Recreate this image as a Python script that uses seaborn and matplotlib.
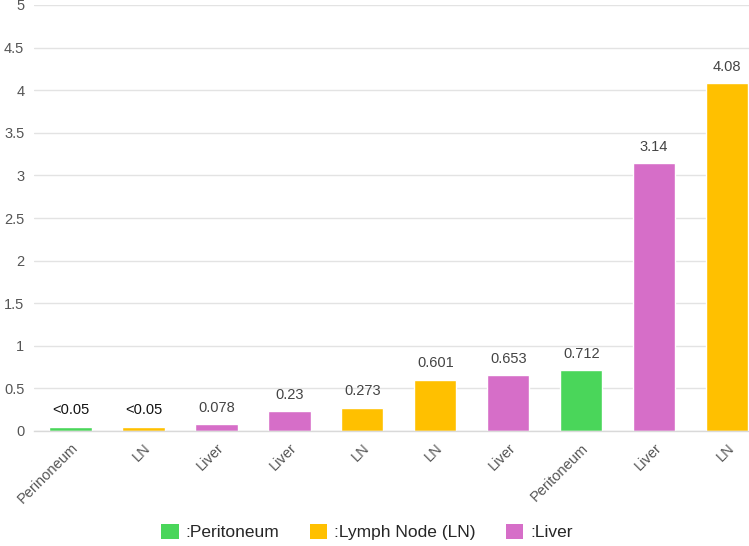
import matplotlib
matplotlib.use("Agg")
import matplotlib.pyplot as plt
import seaborn as sns
import pandas as pd
from matplotlib.patches import Patch

categories = ["Perinoneum", "LN", "Liver", "Liver", "LN", "LN", "Liver", "Peritoneum", "Liver", "LN"]
values = [0.05, 0.05, 0.078, 0.23, 0.273, 0.601, 0.653, 0.712, 3.14, 4.08]
value_labels = ["<0.05", "<0.05", "0.078", "0.23", "0.273", "0.601", "0.653", "0.712", "3.14", "4.08"]
groups = ["Peritoneum", "Lymph Node (LN)", "Liver", "Liver", "Lymph Node (LN)", "Lymph Node (LN)",
          "Liver", "Peritoneum", "Liver", "Lymph Node (LN)"]
legend_order = ["Peritoneum", "Lymph Node (LN)", "Liver"]
colors = {"Peritoneum": "#4ad65a", "Lymph Node (LN)": "#ffc000", "Liver": "#d66ec8"}
yticks = [0, 0.5, 1, 1.5, 2, 2.5, 3, 3.5, 4, 4.5, 5]

sns.set_theme(style="white")
plt.rcParams["font.family"] = ["Liberation Sans", "DejaVu Sans"]

df = pd.DataFrame({"pos": list(range(len(values))), "value": values, "group": groups})

fig = plt.figure(figsize=(7.49, 5.46), dpi=100)
ax = fig.add_axes([34 / 749, 115 / 546, 1 - 34 / 749, (431 - 5) / 546])

sns.barplot(data=df, x="pos", y="value", hue="group", palette=colors, dodge=False,
            width=0.58, legend=False, ax=ax, saturation=1, order=list(range(len(values))))

for cont in ax.containers:
    labs = []
    for bar in cont:
        x = bar.get_x() + bar.get_width() / 2
        idx = int(round(x))
        labs.append(value_labels[idx])
    texts = ax.bar_label(cont, labels=labs, padding=7, fontsize=10.5, color="#444444")
    for t in texts:
        if t.get_text().startswith("<"):
            t.set_color("#111111")

ax.set_ylim(0, 5)
ax.set_xlim(-0.5, 9.3)
ax.set_yticks(yticks)
ax.set_yticklabels([f"{t:g}" for t in yticks], fontsize=10.5, color="#555555")
ax.set_xticks(range(len(categories)))
ax.set_xticklabels(categories, rotation=45, ha="right", rotation_mode="anchor",
                   fontsize=10.5, color="#555555")
ax.tick_params(axis="both", length=0, pad=7)
ax.set_xlabel("")
ax.set_ylabel("")
ax.grid(axis="y", color="#e3e3e3", linewidth=1)
ax.set_axisbelow(True)
for s in ["top", "right", "left"]:
    ax.spines[s].set_visible(False)
ax.spines["bottom"].set_color("#d9d9d9")
ax.spines["bottom"].set_linewidth(1)

handles = [Patch(facecolor=colors[g], edgecolor="none", label=":" + g) for g in legend_order]
fig.legend(handles=handles, loc="center", bbox_to_anchor=(0.49, 14 / 546), ncol=3, frameon=False,
           fontsize=12.5, handlelength=1.0, handleheight=1.0, columnspacing=1.75,
           handletextpad=0.4, borderpad=0.1)

fig.savefig("out.png", dpi=100)
